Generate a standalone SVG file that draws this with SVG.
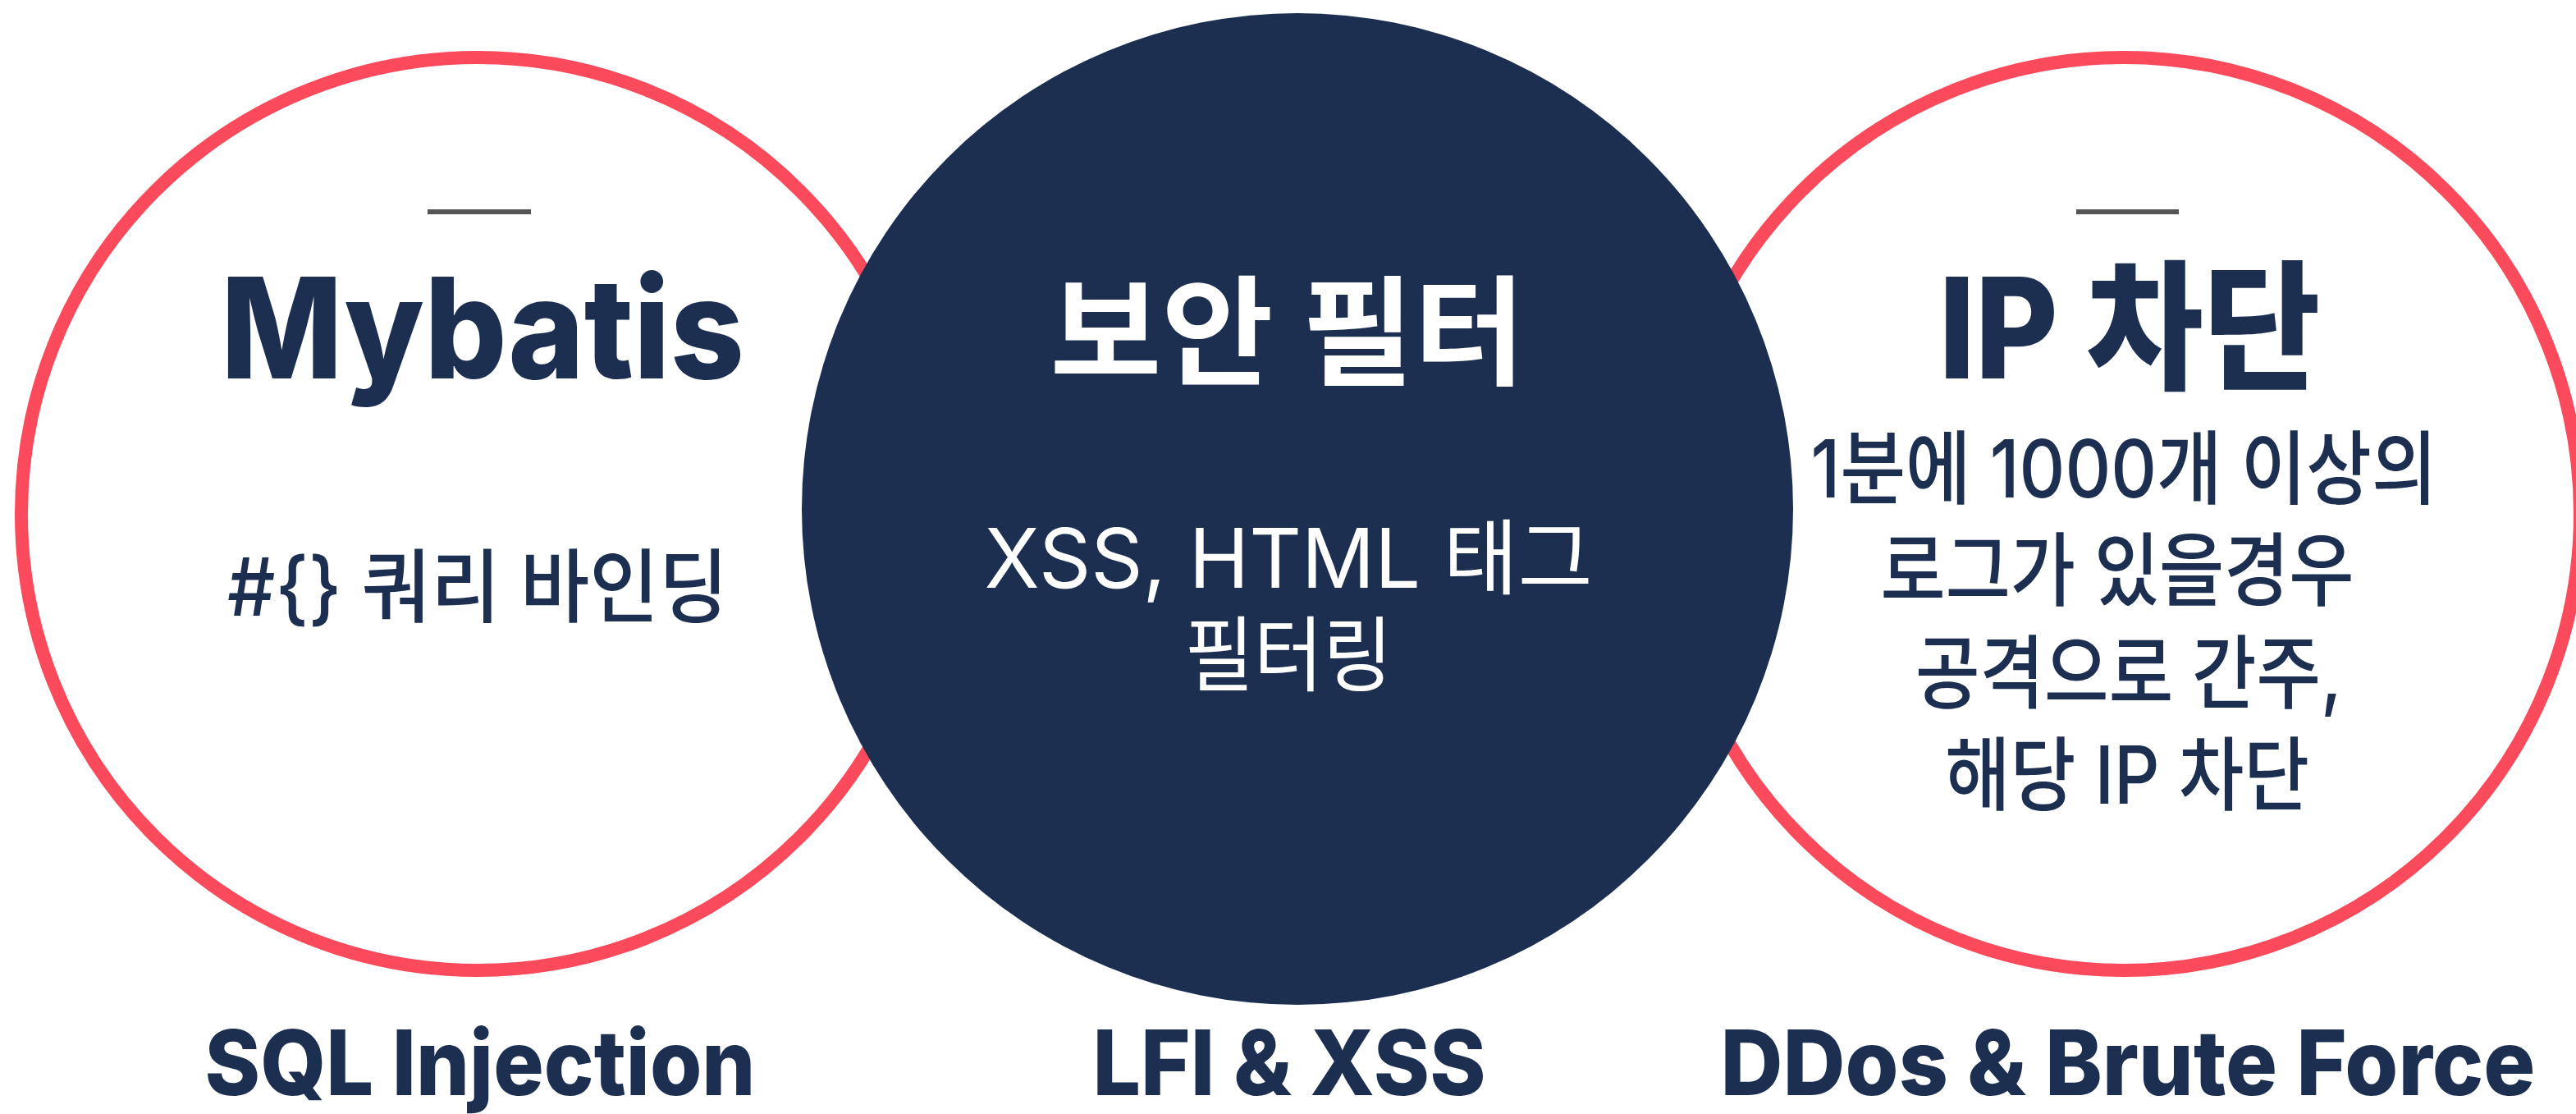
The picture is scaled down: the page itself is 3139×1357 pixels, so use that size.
<svg xmlns="http://www.w3.org/2000/svg" width="3139" height="1357" viewBox="0 0 3139 1357">
<style>
.ring{fill:#ffffff;stroke:#fa4a5b;stroke-width:16}
.core{fill:#1c2f51}
.dash{stroke:#555555;stroke-width:6}
text{font-family:Inter,"Noto Sans CJK KR",sans-serif;text-anchor:middle}
.title{font-size:170px;font-weight:800;fill:#1c2f51}
.titleW{font-size:145px;font-weight:700;fill:#ffffff}
.body{font-size:98px;font-weight:500;fill:#1c2f51}
.bodyW{font-size:100px;font-weight:400;fill:#ffffff}
.label{font-size:110px;font-weight:800;fill:#1c2f51}
</style>
<rect width="3139" height="1357" fill="#ffffff"/>
<g id="node-mybatis">
<circle class="ring" cx="582" cy="626" r="556"/>
<line class="dash" x1="521" y1="258" x2="647" y2="258"/>
<text class="title" x="588" y="461" textLength="638" lengthAdjust="spacingAndGlyphs">Mybatis</text>
<text class="body" x="582" y="750" font-weight="400" textLength="610" lengthAdjust="spacingAndGlyphs">#{} 쿼리 바인딩</text>
</g>
<g id="node-ipblock">
<circle class="ring" cx="2588" cy="626" r="556"/>
<line class="dash" x1="2530" y1="258" x2="2655" y2="258"/>
<text class="title" x="2595" y="461" textLength="465" lengthAdjust="spacingAndGlyphs">IP 차단</text>
<text class="body" x="2588" y="606" textLength="763" lengthAdjust="spacingAndGlyphs">1분에 1000개 이상의</text>
<text class="body" x="2580" y="730" textLength="577" lengthAdjust="spacingAndGlyphs">로그가 있을경우</text>
<text class="body" x="2594" y="855" textLength="520" lengthAdjust="spacingAndGlyphs">공격으로 간주,</text>
<text class="body" x="2592" y="979" textLength="444" lengthAdjust="spacingAndGlyphs">해당 IP 차단</text>
</g>
<g id="node-filter">
<circle class="core" cx="1581" cy="620" r="604"/>
<text class="titleW" x="1569" y="458" textLength="579" lengthAdjust="spacingAndGlyphs">보안 필터</text>
<text class="bodyW" x="1570" y="716" textLength="741" lengthAdjust="spacingAndGlyphs">XSS, HTML 태그</text>
<text class="bodyW" x="1570" y="834" textLength="253" lengthAdjust="spacingAndGlyphs">필터링</text>
</g>
<g id="connectors"></g>
<g id="labels">
<text class="label" x="585" y="1334" textLength="671" lengthAdjust="spacingAndGlyphs">SQL Injection</text>
<text class="label" x="1571" y="1334" textLength="479" lengthAdjust="spacingAndGlyphs">LFI &amp; XSS</text>
<text class="label" x="2593" y="1334" textLength="993" lengthAdjust="spacingAndGlyphs">DDos &amp; Brute Force</text>
</g>
</svg>
